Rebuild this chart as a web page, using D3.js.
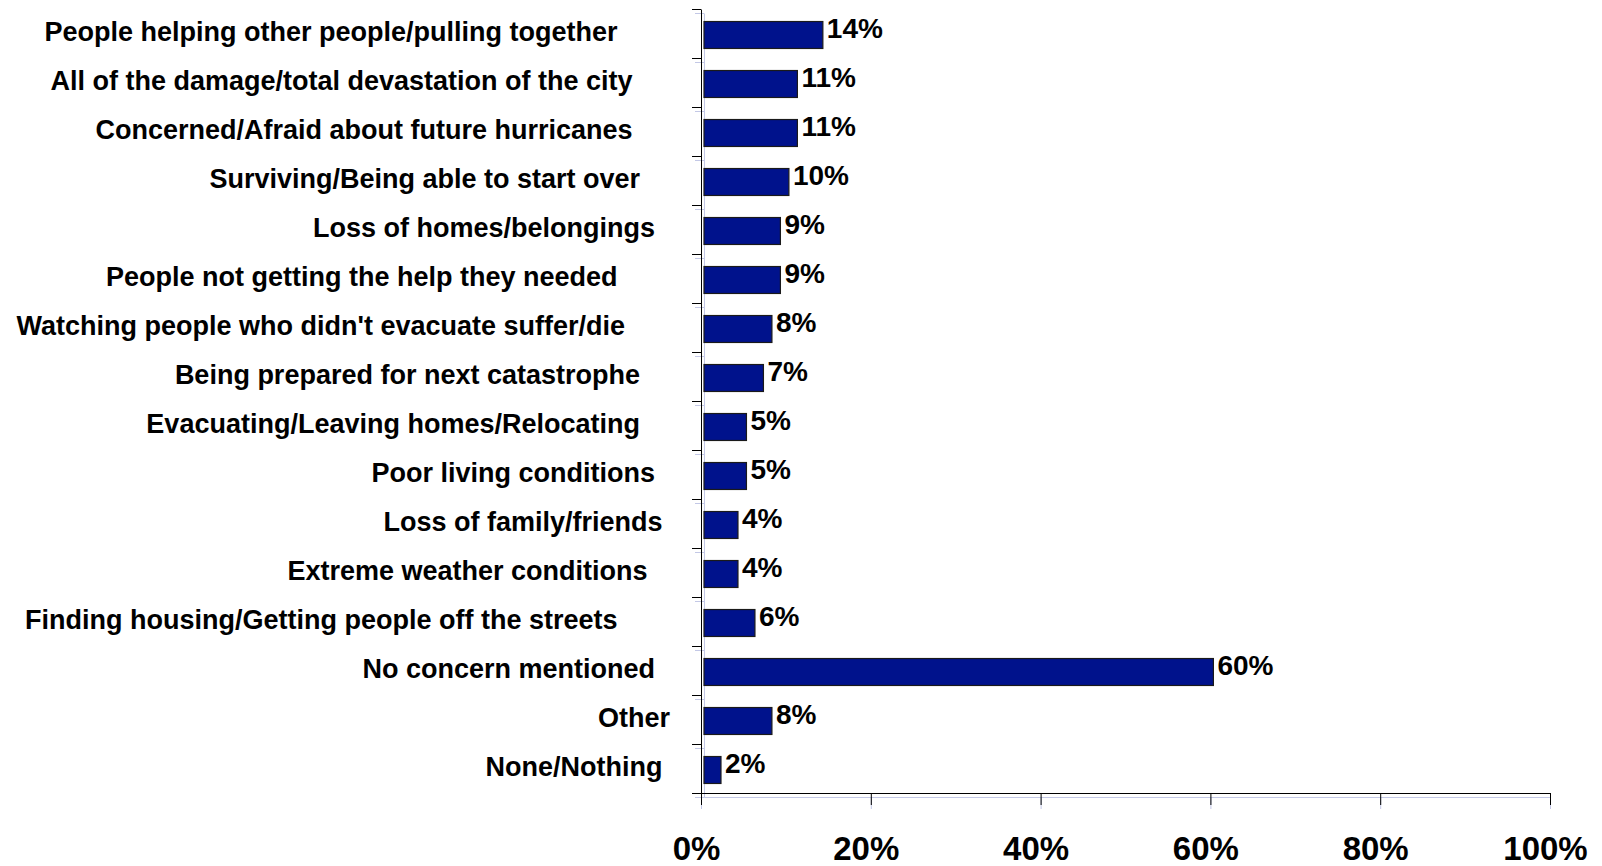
<!DOCTYPE html>
<html lang="en">
  <head>
    <meta charset="utf-8">
    <title>Hurricane concerns</title>
    <script type="text/javascript" src="https://d3js.org/d3.v7.min.js"></script>
    <style type="text/css">
    body {
      margin: 0;
      background: #fff;
    }
    text {
      font-family: "Liberation Sans", Arial, sans-serif;
      font-weight: bold;
      fill: #000;
    }
    .catlabel {
      font-size: 27px;
      white-space: pre;
    }
    .vallabel {
      font-size: 28px;
    }
    .axisx text {
      font-size: 33px;
    }
    .axisx path, .axisx line,
    .axisy path, .axisy line {
      stroke: #000;
    }
    .shadow path, .shadow line {
      stroke: #c3c8e6;
    }
    </style>
  </head>
  <body>
    <svg width="1602" height="866" id="chart"></svg>

    <script type="text/javascript">

    const width = 1602;
    const height = 866;

    // trailing spaces are kept, the labels in the source sit ragged like this
    const categories = [
      "People helping other people/pulling together       ",
      "All of the damage/total devastation of the city     ",
      "Concerned/Afraid about future hurricanes     ",
      "Surviving/Being able to start over    ",
      "Loss of homes/belongings  ",
      "People not getting the help they needed       ",
      "Watching people who didn't evacuate suffer/die      ",
      "Being prepared for next catastrophe    ",
      "Evacuating/Leaving homes/Relocating    ",
      "Poor living conditions  ",
      "Loss of family/friends ",
      "Extreme weather conditions   ",
      "Finding housing/Getting people off the streets       ",
      "No concern mentioned  ",
      "Other",
      "None/Nothing "
    ];
    const values = [14, 11, 11, 10, 9, 9, 8, 7, 5, 5, 4, 4, 6, 60, 8, 2];
    const xTicks = [0, 20, 40, 60, 80, 100];

    const dataset = categories.map((c, i) => ({cat: c, val: values[i]}));

    const plotLeft = 701;
    const plotRight = 1550;
    const plotTop = 9;
    const plotBottom = 793;

    const xScale = d3.scaleLinear()
        .domain([0, 100])
        .range([plotLeft, plotRight]);

    const yScale = d3.scaleBand()
        .domain(categories)
        .range([plotTop, plotBottom])
        .paddingInner(0.45)
        .paddingOuter(0.225);

    // category ticks fall between the bars
    const yEdges = d3.scaleLinear()
        .domain([0, categories.length])
        .range([plotTop, plotBottom]);

    const svg = d3.select("#chart");

    const leftAxis = d3.axisLeft(yEdges)
        .ticks(categories.length)
        .tickSize(9)
        .tickSizeOuter(0)
        .tickFormat("");

    const bottomAxis = d3.axisBottom(xScale)
        .tickValues(xTicks)
        .tickSize(12)
        .tickSizeOuter(0)
        .tickFormat(d => d + "%");

    // faint offset copy of the axes, like the original export
    svg.append("g")
        .attr("class", "shadow")
        .attr("transform", "translate(" + (plotLeft + 3) + ",4)")
        .call(leftAxis);
    svg.append("g")
        .attr("class", "shadow")
        .attr("transform", "translate(0," + (plotBottom + 4) + ")")
        .call(bottomAxis)
        .selectAll("text").remove();

    svg.selectAll("rect.bar")
        .data(dataset)
        .enter()
        .append("rect")
        .attr("class", "bar")
        .attr("x", xScale(0) + 3)
        .attr("y", d => yScale(d.cat) + 1.5)
        .attr("width", d => xScale(d.val) - xScale(0))
        .attr("height", yScale.bandwidth())
        .attr("fill", "#00128c")
        .attr("stroke", "#1a1a1a")
        .attr("stroke-width", 1.2);

    svg.selectAll("text.vallabel")
        .data(dataset)
        .enter()
        .append("text")
        .attr("class", "vallabel")
        .attr("x", d => xScale(d.val) + 7)
        .attr("y", d => yScale(d.cat) + yScale.bandwidth() / 2 - 5)
        .attr("dy", "0.35em")
        .text(d => d.val + "%");

    svg.selectAll("text.catlabel")
        .data(dataset)
        .enter()
        .append("text")
        .attr("class", "catlabel")
        .attr("xml:space", "preserve")
        .attr("text-anchor", "end")
        .attr("x", 670)
        .attr("y", d => yScale(d.cat) + yScale.bandwidth() / 2 - 2)
        .attr("dy", "0.35em")
        .text(d => d.cat);

    svg.append("g")
        .attr("class", "axisy")
        .attr("transform", "translate(" + plotLeft + ",0)")
        .call(leftAxis);

    svg.append("g")
        .attr("class", "axisx")
        .attr("transform", "translate(0," + plotBottom + ")")
        .call(bottomAxis)
        .selectAll("text")
          .attr("y", 67)
          .attr("dy", 0)
          .attr("dx", -5);

    </script>
  </body>
</html>
